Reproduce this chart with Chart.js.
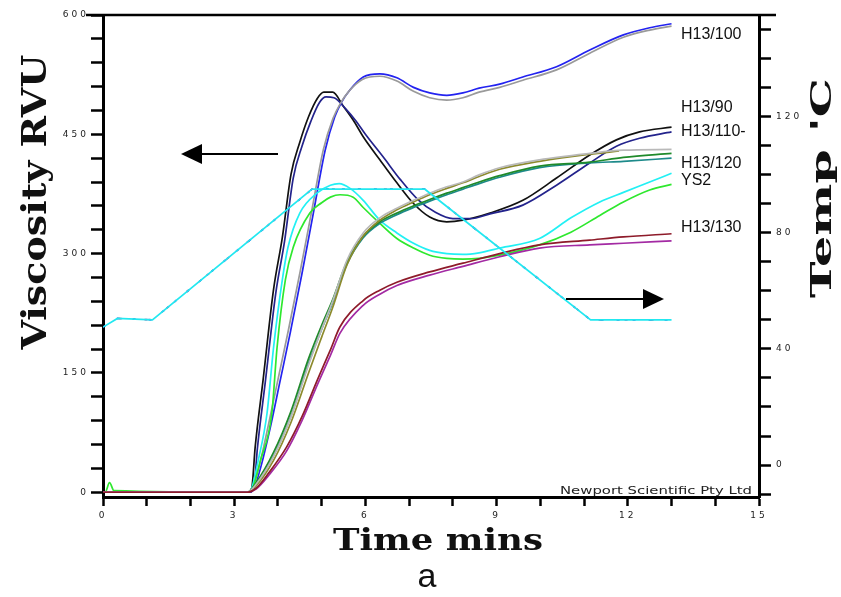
<!DOCTYPE html>
<html>
<head>
<meta charset="utf-8">
<title>RVA pasting curves</title>
<script src="https://cdn.jsdelivr.net/npm/chart.js@4.4.1/dist/chart.umd.min.js"></script>
<style>
  body { margin: 0; background: #fff; }
  #wrap { width: 841px; height: 597px; }
</style>
</head>
<body>
<div id="wrap"><canvas id="rva-chart" width="841" height="597"></canvas></div>
<script>
'use strict';

// ******* DATA (time in mins, viscosity in RVU, temp in 'C) ********

let xTicks = [0, 1, 2, 3, 4, 5, 6, 7, 8, 9, 10, 11, 12, 13, 14, 15];
let xLabels = [0, 3, 6, 9, 12, 15];
let viscTicks = [0, 30, 60, 90, 120, 150, 180, 210, 240, 270, 300, 330, 360, 390, 420, 450, 480, 510, 540, 570, 600];
let viscLabels = [0, 150, 300, 450, 600];
let tempTicks = [-10, 0, 10, 20, 30, 40, 50, 60, 70, 80, 90, 100, 110, 120, 130, 140, 150];
let tempLabels = [0, 40, 80, 120];

// temperature profile
let tempTime = [0, 0.33, 1.13, 4.78, 7.36, 11.15, 13.0];
let tempValue = [47.5, 50.5, 50, 95, 95, 50, 50];

// H13/100 pair (blue + grey)
let blueTime = [0, 3.35, 3.45, 3.6, 3.82, 4.05, 4.28, 4.55, 4.81, 5.08, 5.3, 5.45, 5.65, 5.95, 6.33, 6.72, 7.1, 7.47, 7.86, 8.23, 8.6, 9.07, 9.6, 10.37, 11.13, 11.9, 12.5, 13.0];
let blueVisc = [0, 0, 5, 30, 80, 140, 200, 275, 351, 430, 472, 490, 506, 522, 526, 521, 509, 502, 499, 502, 508, 513, 522, 535, 556, 575, 584, 589];
let greyTime = [0, 3.32, 3.42, 3.57, 3.78, 4.01, 4.24, 4.51, 4.77, 5.04, 5.26, 5.42, 5.62, 5.93, 6.33, 6.72, 7.1, 7.47, 7.86, 8.23, 8.6, 9.07, 9.6, 10.37, 11.13, 11.9, 12.5, 13.0];
let greyVisc = [0, 0, 5, 32, 84, 144, 204, 278, 353, 431, 470, 488, 504, 519, 523, 517, 504, 496, 493, 496, 503, 509, 518, 531, 552, 572, 581, 586];

// H13/90 pair (black + navy)
let blackTime = [0, 3.3, 3.4, 3.48, 3.66, 3.9, 4.1, 4.3, 4.5, 4.7, 4.9, 5.05, 5.25, 5.5, 5.72, 5.95, 6.33, 6.72, 7.1, 7.47, 7.86, 8.23, 8.85, 9.6, 10.37, 11.13, 11.74, 12.27, 13.0];
let blackVisc = [0, 0, 5, 57, 141, 255, 320, 400, 440, 472, 495, 503, 503, 485, 468, 447, 418, 389, 363, 346, 340, 342, 351, 367, 395, 424, 443, 453, 459];
let navyTime = [0, 3.35, 3.45, 3.53, 3.71, 3.95, 4.15, 4.35, 4.55, 4.75, 4.95, 5.1, 5.28, 5.55, 5.78, 6.0, 6.4, 6.8, 7.2, 7.6, 8.0, 8.4, 8.85, 9.6, 10.37, 11.13, 11.74, 12.27, 13.0];
let navyVisc = [0, 0, 5, 55, 138, 250, 315, 395, 435, 466, 490, 497, 496, 482, 467, 450, 422, 393, 368, 352, 344, 344, 350, 361, 386, 414, 435, 445, 453];

// YS2 pair (cyan + lime)
let cyanTime = [0, 3.3, 3.4, 3.55, 3.75, 3.9, 4.1, 4.23, 4.5, 4.89, 5.2, 5.4, 5.65, 5.95, 6.33, 6.72, 7.1, 7.47, 7.86, 8.23, 8.6, 9.07, 9.98, 10.7, 11.36, 11.9, 12.5, 13.0];
let cyanVisc = [0, 0, 5, 40, 99, 182, 267, 308, 351, 376, 386, 388, 382, 367, 342, 326, 313, 304, 300, 299, 301, 307, 319, 345, 365, 377, 390, 401];
let limeTime = [0, 0.05, 0.15, 0.25, 3.3, 3.42, 3.6, 3.86, 3.98, 4.17, 4.35, 4.73, 5.0, 5.2, 5.42, 5.72, 5.95, 6.33, 6.72, 7.1, 7.47, 7.86, 8.23, 8.6, 9.07, 9.98, 10.7, 11.36, 11.9, 12.5, 13.0];
let limeVisc = [0, 0, 12, 2, 0, 5, 40, 99, 182, 267, 308, 351, 364, 371, 374, 371, 358, 338, 319, 307, 298, 294, 293, 294, 298, 311, 327, 348, 365, 380, 387];

// slow rising group (light grey + olive, green + teal)
let slowTime = [0, 3.3, 3.5, 3.9, 4.3, 4.7, 5.0, 5.25, 5.58, 5.95, 6.33, 6.72, 7.1, 7.47, 7.86, 8.23, 8.6, 9.07, 9.98, 11.13, 11.9, 13.0];
let silverVisc = [0, 0, 10, 45, 95, 160, 205, 240, 292, 326, 345, 357, 367, 376, 384, 390, 399, 408, 418, 426, 430, 431];
let oliveTime = [0, 3.3, 3.5, 3.9, 4.3, 4.7, 5.0, 5.25, 5.58, 5.95, 6.33, 6.72, 7.1, 7.47, 7.86, 8.23, 8.6, 9.07, 9.98, 11.13, 11.8];
let oliveVisc = [0, 0, 8, 40, 88, 150, 195, 232, 286, 322, 342, 355, 365, 374, 382, 389, 397, 406, 416, 425, 429];
let greenVisc = [0, 0, 12, 50, 102, 168, 210, 242, 290, 322, 340, 351, 360, 368, 376, 383, 390, 398, 410, 415, 421, 426];
let tealVisc = [0, 0, 10, 46, 96, 162, 205, 238, 287, 320, 338, 349, 358, 366, 374, 381, 388, 396, 408, 414, 416, 420];

// H13/130 pair (dark red + purple)
let redTime = [0, 3.3, 3.5, 3.8, 4.2, 4.55, 4.9, 5.2, 5.42, 5.95, 6.33, 6.72, 7.47, 8.23, 9.07, 9.98, 11.13, 11.9, 13.0];
let redVisc = [0, 0, 5, 25, 57, 95, 141, 179, 208, 241, 254, 264, 277, 288, 300, 311, 317, 321, 325];
let purpleVisc = [0, 0, 4, 22, 52, 90, 135, 172, 200, 235, 249, 260, 273, 284, 296, 307, 311, 313, 316];

let seriesNames = ['H13/100', 'H13/90', 'H13/110-', 'H13/120', 'YS2', 'H13/130'];

// ******* HELPERS ********

function makePoints(times, values) {
  let pts = [];
  for (let i = 0; i < times.length; i++) {
    pts.push({ x: times[i], y: values[i] });
  }
  return pts;
}

function makeLine(label, times, values, color, axis = 'y') {
  return {
    label: label,
    data: makePoints(times, values),
    borderColor: color,
    borderWidth: 1.7,
    pointRadius: 0,
    fill: false,
    cubicInterpolationMode: 'monotone',
    yAxisID: axis
  };
}

// straight segments for the temperature programme
function makeTempLine(label, color) {
  let line = makeLine(label, tempTime, tempValue, color, 'y1');
  line.cubicInterpolationMode = 'default';
  line.tension = 0;
  return line;
}

// draws text stretched sideways to a given width (the RVA print uses wide type)
function wideText(ctx, text, x, y, width, font, angle) {
  ctx.save();
  ctx.font = font;
  ctx.translate(x, y);
  if (angle) ctx.rotate(angle);
  ctx.textAlign = 'center';
  ctx.textBaseline = 'middle';
  let w = ctx.measureText(text).width;
  ctx.scale(width / w, 1);
  ctx.fillText(text, 0, 0);
  ctx.restore();
}

function drawArrow(ctx, x1, x2, y, dir) {
  let tip = x2;
  let base = x2 - dir * 21;
  ctx.save();
  ctx.strokeStyle = '#000';
  ctx.fillStyle = '#000';
  ctx.lineWidth = 2;
  ctx.beginPath();
  ctx.moveTo(x1, y);
  ctx.lineTo(base, y);
  ctx.stroke();
  ctx.beginPath();
  ctx.moveTo(tip, y);
  ctx.lineTo(base, y - 10);
  ctx.lineTo(base, y + 10);
  ctx.closePath();
  ctx.fill();
  ctx.restore();
}

// ****** PLUGIN FOR TITLES, ARROWS AND NOTES ******
let decorPlugin = {
  id: 'decor',
  beforeDraw(chart) {
    // wide spaced tick digits like the RVA print
    chart.ctx.letterSpacing = '3px';
  },
  beforeDatasetsDraw(chart) {
    chart.ctx.letterSpacing = '0px';
  },
  afterDraw(chart) {
    let ctx = chart.ctx;
    let area = chart.chartArea;
    ctx.save();
    ctx.letterSpacing = '0px';

    // top frame line
    ctx.strokeStyle = '#000';
    ctx.lineWidth = 2.5;
    ctx.beginPath();
    ctx.moveTo(area.left - 17, area.top);
    ctx.lineTo(area.right + 17, area.top);
    ctx.stroke();

    ctx.fillStyle = '#111';
    wideText(ctx, 'Viscosity RVU', 37, 202, 295, 'bold 34px "DejaVu Serif"', -Math.PI / 2);
    wideText(ctx, 'Temp \'C', 824, 188, 220, 'bold 28px "DejaVu Serif"', -Math.PI / 2);
    wideText(ctx, 'Time mins', 438, 542, 210, 'bold 30px "DejaVu Serif"', 0);

    ctx.font = '34px "Liberation Sans", Arial, sans-serif';
    ctx.textAlign = 'center';
    ctx.textBaseline = 'middle';
    ctx.fillText('a', 427, 578);

    ctx.fillStyle = '#222';
    wideText(ctx, 'Newport Scientific Pty Ltd', 656, 491, 192, '10px "DejaVu Sans"', 0);

    // sample names at the right end of the curves
    let labelY = [35, 108, 132, 164, 181, 228];
    ctx.fillStyle = '#111';
    ctx.font = '16px "Liberation Sans", Arial, sans-serif';
    ctx.textAlign = 'left';
    ctx.textBaseline = 'middle';
    for (let i = 0; i < seriesNames.length; i++) {
      ctx.fillText(seriesNames[i], 681, labelY[i]);
    }

    drawArrow(ctx, 278, 181, 154, -1);
    drawArrow(ctx, 566, 664, 299, 1);
    ctx.restore();
  }
};

// ******* CHART ********
let ctx = document.getElementById('rva-chart');

let datasets = [
  makeTempLine('Temp', '#22e8f0'),
  makeLine('H13/130 a', redTime, redVisc, '#8e1b2a'),
  makeLine('H13/130 b', redTime, purpleVisc, '#a32aa3'),
  makeLine('H13/110 a', slowTime, silverVisc, '#b9b9b9'),
  makeLine('H13/110 b', oliveTime, oliveVisc, '#8c8a2c'),
  makeLine('H13/120 a', slowTime, greenVisc, '#1f8a2a'),
  makeLine('H13/120 b', slowTime, tealVisc, '#1d8a8a'),
  makeLine('YS2 a', limeTime, limeVisc, '#2ee82e'),
  makeLine('YS2 b', cyanTime, cyanVisc, '#22f0f4'),
  makeLine('H13/100 b', greyTime, greyVisc, '#9a9a9a'),
  makeLine('H13/100 a', blueTime, blueVisc, '#2323f0'),
  makeLine('H13/90 b', navyTime, navyVisc, '#23238c'),
  makeLine('H13/90 a', blackTime, blackVisc, '#111111')
];

// temperature trace is printed over by the other runs: small coloured dashes
let tempDashes = makeTempLine('Temp dash', '#3a3ad0');
tempDashes.borderDash = [3, 13];
let tempDashes2 = makeTempLine('Temp dash 2', '#a03a9a');
tempDashes2.borderDash = [3, 23];
tempDashes2.borderDashOffset = 8;
datasets.push(tempDashes, tempDashes2);

let tickFont = { family: 'DejaVu Sans', size: 9 };

new Chart(ctx, { //eslint-disable-line
  type: 'line',
  data: { datasets: datasets },
  plugins: [decorPlugin],
  options: {
    responsive: false,
    devicePixelRatio: 1,
    animation: false,
    layout: { padding: { top: 15, left: 0, right: 0, bottom: 0 } },
    plugins: {
      legend: { display: false },
      tooltip: { enabled: false }
    },
    scales: {
      x: {
        type: 'linear',
        min: 0,
        max: 15,
        afterBuildTicks: axis => { axis.ticks = xTicks.map(v => ({ value: v })); },
        afterFit: scale => { scale.height = 100; },
        ticks: {
          autoSkip: false,
          maxRotation: 0,
          padding: 4,
          color: '#222',
          font: tickFont,
          callback: v => (xLabels.includes(v) ? String(v) : '')
        },
        grid: { drawOnChartArea: false, tickLength: 9, tickWidth: 2.5, tickColor: '#000' },
        border: { display: true, color: '#000', width: 3 }
      },
      y: {
        position: 'left',
        min: -6,
        max: 600,
        afterBuildTicks: axis => { axis.ticks = viscTicks.map(v => ({ value: v })); },
        afterFit: scale => { scale.width = 103; },
        ticks: {
          autoSkip: false,
          padding: 2,
          color: '#222',
          font: tickFont,
          callback: v => (viscLabels.includes(v) ? String(v) : '')
        },
        grid: { drawOnChartArea: false, tickLength: 12, tickWidth: 2.5, tickColor: '#000' },
        border: { display: true, color: '#000', width: 3 }
      },
      y1: {
        position: 'right',
        min: -11,
        max: 155,
        afterBuildTicks: axis => { axis.ticks = tempTicks.map(v => ({ value: v })); },
        afterFit: scale => { scale.width = 82; },
        ticks: {
          autoSkip: false,
          padding: 5,
          color: '#222',
          font: tickFont,
          callback: v => (tempLabels.includes(v) ? String(v) : '')
        },
        grid: { drawOnChartArea: false, tickLength: 12, tickWidth: 2.5, tickColor: '#000' },
        border: { display: true, color: '#000', width: 3 }
      }
    }
  }
});
</script>
</body>
</html>
